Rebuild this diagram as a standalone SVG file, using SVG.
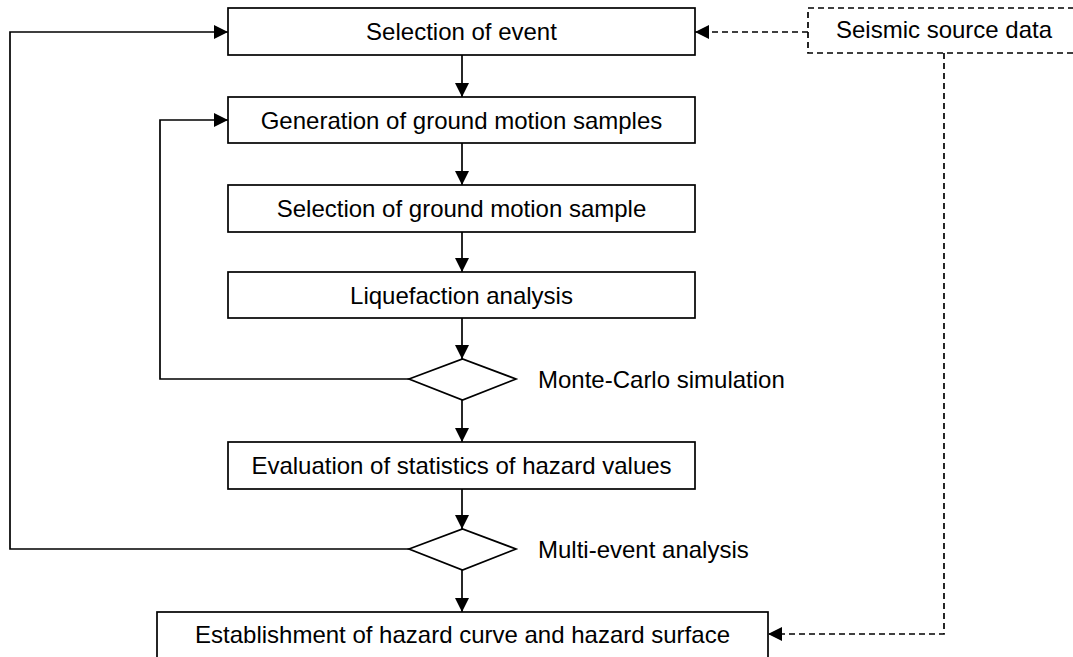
<svg xmlns="http://www.w3.org/2000/svg" width="1073" height="657" viewBox="0 0 1073 657">
<defs>
<style>
.box{fill:#fff;stroke:#000;stroke-width:1.7}
.dbox{fill:#fff;stroke:#000;stroke-width:1.7;stroke-dasharray:6,4}
.t{font-family:"Liberation Sans",Arial,sans-serif;font-size:24px;fill:#000}
.c{text-anchor:middle}
.ln{fill:none;stroke:#000;stroke-width:1.7}
.dl{fill:none;stroke:#000;stroke-width:1.7;stroke-dasharray:6,4}
</style>
<marker id="ah" markerUnits="userSpaceOnUse" markerWidth="14" markerHeight="14" refX="14" refY="7" orient="auto">
<path d="M0,0 L14,7 L0,14 Z" fill="#000"/>
</marker>
</defs>
<rect width="1073" height="657" fill="#fff"/>
<g id="connectors">
<path class="ln" d="M462,55 V97" marker-end="url(#ah)"/>
<path class="ln" d="M462,143 V185" marker-end="url(#ah)"/>
<path class="ln" d="M462,232 V272" marker-end="url(#ah)"/>
<path class="ln" d="M462,318 V359" marker-end="url(#ah)"/>
<path class="ln" d="M462,400 V442" marker-end="url(#ah)"/>
<path class="ln" d="M462,489 V529" marker-end="url(#ah)"/>
<path class="ln" d="M462,570 V612" marker-end="url(#ah)"/>
<path class="ln" d="M409,379 H160 V120 H228" marker-end="url(#ah)"/>
<path class="ln" d="M409,549 H10 V32 H228" marker-end="url(#ah)"/>
<path class="dl" d="M808,32 H695" marker-end="url(#ah)"/>
<path class="dl" d="M944,53 V634 H768" marker-end="url(#ah)"/>
</g>
<g id="n1"><rect class="box" x="228" y="8" width="467" height="47"/><text class="t c" x="461.5" y="40">Selection of event</text></g>
<g id="n2"><rect class="box" x="228" y="97" width="467" height="46"/><text class="t c" x="461.5" y="128.5">Generation of ground motion samples</text></g>
<g id="n3"><rect class="box" x="228" y="185" width="467" height="47"/><text class="t c" x="461.5" y="217">Selection of ground motion sample</text></g>
<g id="n4"><rect class="box" x="228" y="272" width="467" height="46"/><text class="t c" x="461.5" y="303.5">Liquefaction analysis</text></g>
<g id="d1"><path class="box" d="M409,379 L462.5,359 L516,379 L462.5,400 Z"/><text class="t" x="538" y="387.5">Monte-Carlo simulation</text></g>
<g id="n5"><rect class="box" x="228" y="442" width="467" height="47"/><text class="t c" x="461.5" y="474">Evaluation of statistics of hazard values</text></g>
<g id="d2"><path class="box" d="M409,549 L462.5,529 L516,549 L462.5,570 Z"/><text class="t" x="538" y="557.5">Multi-event analysis</text></g>
<g id="n6"><rect class="box" x="157" y="612" width="611" height="70"/><text class="t c" x="462.5" y="643">Establishment of hazard curve and hazard surface</text></g>
<g id="src"><rect class="dbox" x="808" y="8" width="290" height="45"/><text class="t c" x="944" y="38">Seismic source data</text></g>
</svg>
